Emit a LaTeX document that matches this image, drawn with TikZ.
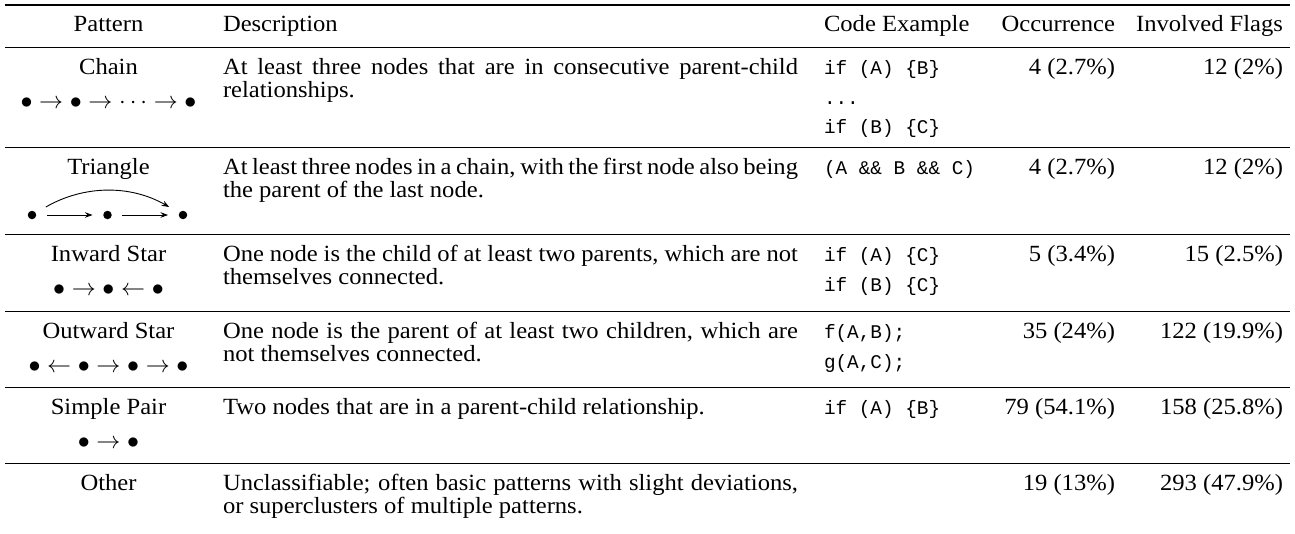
\RequirePackage{fix-cm}
\documentclass[tikz,border=0pt]{standalone}
\usepackage{fontspec}
\setmainfont[FakeStretch=1.06]{Liberation Serif}
\setmonofont[Scale=0.88]{Liberation Mono}
\usetikzlibrary{arrows.meta}
\newcommand{\DescBox}[1]{\parbox[t]{575pt}{\baselineskip=22.5pt #1}}
\newcommand{\CodeBox}[1]{\parbox[t]{250pt}{\fontsize{22}{22}\ttfamily\baselineskip=29.5pt #1}}
\tikzset{
  cell/.style={inner sep=0pt, outer sep=0pt, font=\fontsize{23.2}{22.5}\selectfont},
  sym/.style={inner sep=0pt, outer sep=0pt, font=\fontsize{24}{24}\selectfont},
  toprule/.style={line width=1.6pt},
  rowrule/.style={line width=1pt},
  dot/.style={circle, fill=black, inner sep=0pt, minimum size=8.5pt},
  arr/.style={-{Stealth[length=7.5pt,width=5.5pt]}, line width=0.9pt}
}
\begin{document}
\begin{tikzpicture}[x=1pt,y=-1pt]
\fill[white] (0,0) rectangle (1295,533);
\useasboundingbox (0,0) rectangle (1295,533);
% rules
\draw[toprule] (5,5) -- (1290,5);
\draw[rowrule] (5,47) -- (1290,47);
\draw[rowrule] (5,147) -- (1290,147);
\draw[rowrule] (5,234) -- (1290,234);
\draw[rowrule] (5,311) -- (1290,311);
\draw[rowrule] (5,387) -- (1290,387);
\draw[rowrule] (5,463) -- (1290,463);
% header
\node[cell, anchor=base] (hP) at (108.5,31) {Pattern};
\node[cell, anchor=base west] (hD) at (223,31) {Description};
\node[cell, anchor=base west] (hC) at (824,31) {Code Example};
\node[cell, anchor=base east] (hO) at (1115,31) {Occurrence};
\node[cell, anchor=base east] (hF) at (1283,31) {Involved Flags};
% Chain
\node[cell, anchor=base] (p1) at (108.5,74.5) {Chain};
\node[sym] (s1) at (108.5,103) {$\bullet\to\bullet\to\cdots\to\bullet$};
\node[cell, anchor=base west] (d1) at (223,74.5) {\DescBox{At least three nodes that are in consecutive parent-child\linebreak relationships.}};
\node[cell, anchor=base west] (c1) at (824,74.5) {\CodeBox{if (A) \{B\}\\...\\if (B) \{C\}}};
\node[cell, anchor=base east] (o1) at (1115,74.5) {4 (2.7\%)};
\node[cell, anchor=base east] (f1) at (1283,74.5) {12 (2\%)};
% Triangle
\node[cell, anchor=base] (p2) at (108.5,174.5) {Triangle};
\node[dot] (t1) at (32,215) {};
\node[dot] (t2) at (107.5,215) {};
\node[dot] (t3) at (183,215) {};
\draw[arr, shorten <=10.5pt, shorten >=10.5pt] (t1) -- (t2);
\draw[arr, shorten <=10.5pt, shorten >=10.5pt] (t2) -- (t3);
\draw[arr, shorten <=11.5pt, shorten >=11.5pt] (t1) to[bend left=30] (t3);
\node[cell, anchor=base west] (d2) at (223,174.5) {\DescBox{At least three nodes in a chain, with the first node also being\linebreak the parent of the last node.}};
\node[cell, anchor=base west] (c2) at (824,174.5) {\CodeBox{(A \&\& B \&\& C)}};
\node[cell, anchor=base east] (o2) at (1115,174.5) {4 (2.7\%)};
\node[cell, anchor=base east] (f2) at (1283,174.5) {12 (2\%)};
% Inward Star
\node[cell, anchor=base] (p3) at (108.5,261.5) {Inward Star};
\node[sym] (s3) at (108.5,290) {$\bullet\to\bullet\gets\bullet$};
\node[cell, anchor=base west] (d3) at (223,261.5) {\DescBox{One node is the child of at least two parents, which are not\linebreak themselves connected.}};
\node[cell, anchor=base west] (c3) at (824,261.5) {\CodeBox{if (A) \{C\}\\if (B) \{C\}}};
\node[cell, anchor=base east] (o3) at (1115,261.5) {5 (3.4\%)};
\node[cell, anchor=base east] (f3) at (1283,261.5) {15 (2.5\%)};
% Outward Star
\node[cell, anchor=base] (p4) at (108.5,338.5) {Outward Star};
\node[sym] (s4) at (108.5,367) {$\bullet\gets\bullet\to\bullet\to\bullet$};
\node[cell, anchor=base west] (d4) at (223,338.5) {\DescBox{One node is the parent of at least two children, which are\linebreak not themselves connected.}};
\node[cell, anchor=base west] (c4) at (824,338.5) {\CodeBox{f(A,B);\\g(A,C);}};
\node[cell, anchor=base east] (o4) at (1115,338.5) {35 (24\%)};
\node[cell, anchor=base east] (f4) at (1283,338.5) {122 (19.9\%)};
% Simple Pair
\node[cell, anchor=base] (p5) at (108.5,414.5) {Simple Pair};
\node[sym] (s5) at (108.5,443) {$\bullet\to\bullet$};
\node[cell, anchor=base west] (d5) at (223,414.5) {\DescBox{Two nodes that are in a parent-child relationship.}};
\node[cell, anchor=base west] (c5) at (824,414.5) {\CodeBox{if (A) \{B\}}};
\node[cell, anchor=base east] (o5) at (1115,414.5) {79 (54.1\%)};
\node[cell, anchor=base east] (f5) at (1283,414.5) {158 (25.8\%)};
% Other
\node[cell, anchor=base] (p6) at (108.5,490.5) {Other};
\node[cell, anchor=base west] (d6) at (223,490.5) {\DescBox{Unclassifiable; often basic patterns with slight deviations,\linebreak or superclusters of multiple patterns.}};
\node[cell, anchor=base east] (o6) at (1115,490.5) {19 (13\%)};
\node[cell, anchor=base east] (f6) at (1283,490.5) {293 (47.9\%)};
\end{tikzpicture}
\end{document}
